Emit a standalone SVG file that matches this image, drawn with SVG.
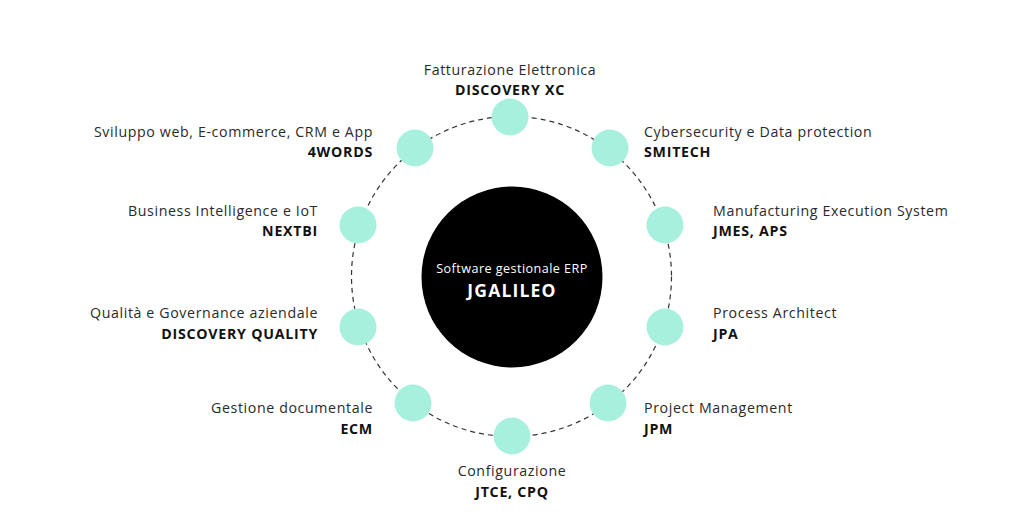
<svg xmlns="http://www.w3.org/2000/svg" width="1024" height="520" viewBox="0 0 1024 520">
<style>
.lbl{font-family:"Open Sans","Liberation Sans",sans-serif;font-size:14.2px;letter-spacing:0.62px;fill:#2a2a2a}
.bld{font-family:"Open Sans","Liberation Sans",sans-serif;font-size:14.2px;font-weight:700;letter-spacing:0.75px;fill:#111}
.r{text-anchor:end}.m{text-anchor:middle}
.node{fill:#a7f0dd}
</style>
<rect width="1024" height="520" fill="#fff"/>
<g id="connectors">
<circle cx="511.5" cy="276.5" r="160" fill="none" stroke="#333" stroke-width="1.2" stroke-dasharray="5 4"/>
</g>
<g id="center">
<circle cx="512" cy="277" r="90.5" fill="#000"/>
<text x="512" y="273" class="m" style="font-family:'Open Sans','Liberation Sans',sans-serif;font-size:12.6px;letter-spacing:0.45px;fill:#fff">Software gestionale ERP</text>
<text x="512" y="297" class="m" style="font-family:'Open Sans','Liberation Sans',sans-serif;font-size:17.5px;font-weight:700;letter-spacing:1.2px;fill:#fff">JGALILEO</text>
</g>
<g id="n-discoveryxc"><circle class="node" cx="510" cy="117" r="18.5"/><text class="lbl m" x="510" y="75">Fatturazione Elettronica</text><text class="bld m" x="510" y="95">DISCOVERY XC</text></g>
<g id="n-4words"><circle class="node" cx="415" cy="148" r="18.5"/><text class="lbl r" x="373" y="137">Sviluppo web, E-commerce, CRM e App</text><text class="bld r" x="373" y="157">4WORDS</text></g>
<g id="n-smitech"><circle class="node" cx="610" cy="148" r="18.5"/><text class="lbl" x="644" y="137">Cybersecurity e Data protection</text><text class="bld" x="644" y="157">SMITECH</text></g>
<g id="n-nextbi"><circle class="node" cx="358" cy="225" r="18.5"/><text class="lbl r" x="318" y="216">Business Intelligence e IoT</text><text class="bld r" x="318" y="236">NEXTBI</text></g>
<g id="n-jmes"><circle class="node" cx="665" cy="225" r="18.5"/><text class="lbl" x="713" y="216">Manufacturing Execution System</text><text class="bld" x="713" y="236">JMES, APS</text></g>
<g id="n-quality"><circle class="node" cx="358" cy="327" r="18.5"/><text class="lbl r" x="318" y="318">Qualità e Governance aziendale</text><text class="bld r" x="318" y="339">DISCOVERY QUALITY</text></g>
<g id="n-jpa"><circle class="node" cx="665" cy="327" r="18.5"/><text class="lbl" x="713" y="318">Process Architect</text><text class="bld" x="713" y="339">JPA</text></g>
<g id="n-ecm"><circle class="node" cx="413" cy="403" r="18.5"/><text class="lbl r" x="373" y="413">Gestione documentale</text><text class="bld r" x="373" y="434">ECM</text></g>
<g id="n-jpm"><circle class="node" cx="608" cy="403" r="18.5"/><text class="lbl" x="644" y="413">Project Management</text><text class="bld" x="644" y="434">JPM</text></g>
<g id="n-jtce"><circle class="node" cx="512" cy="436" r="18.5"/><text class="lbl m" x="512" y="476">Configurazione</text><text class="bld m" x="512" y="497">JTCE, CPQ</text></g>
</svg>
